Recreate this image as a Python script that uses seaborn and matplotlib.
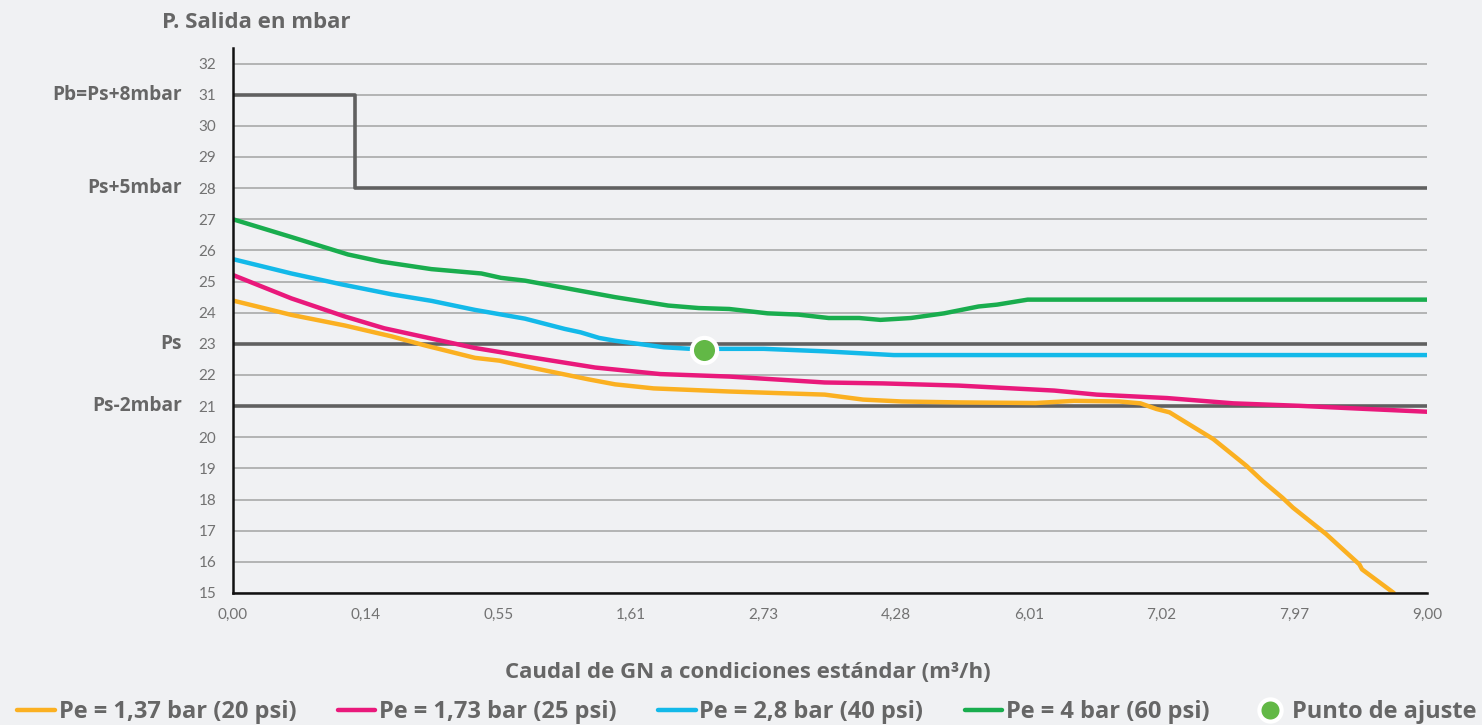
import numpy as np
import pandas as pd
import matplotlib
matplotlib.use("Agg")
import matplotlib.pyplot as plt
import matplotlib.transforms as mtransforms
from matplotlib.lines import Line2D
import seaborn as sns

# ---------------- data ----------------
x_tick_labels = ["0,00", "0,14", "0,55", "1,61", "2,73", "4,28", "6,01", "7,02", "7,97", "9,00"]
y_ticks = list(range(15, 33))

series_names = ["Pe = 1,37 bar (20 psi)", "Pe = 1,73 bar (25 psi)",
                "Pe = 2,8 bar (40 psi)", "Pe = 4 bar (60 psi)"]

x_137 = [0, 0.44, 0.842, 1.196, 1.447, 1.824, 2.01, 2.2, 2.44, 2.68, 2.88, 3.17, 3.74,
         4.46, 4.75, 5.04, 5.47, 6.05, 6.34, 6.68, 6.84, 6.96, 7.06, 7.14, 7.39, 7.64,
         7.76, 7.91, 7.99, 8.24, 8.49, 8.51, 8.75]
y_137 = [24.39, 23.93, 23.59, 23.24, 22.95, 22.55, 22.46, 22.28, 22.07, 21.86, 21.70,
         21.57, 21.47, 21.37, 21.21, 21.15, 21.12, 21.10, 21.17, 21.15, 21.09, 20.91,
         20.80, 20.59, 19.94, 19.08, 18.60, 18.06, 17.74, 16.89, 15.92, 15.76, 15.0]

x_173 = [0, 0.44, 0.842, 1.14, 1.495, 1.82, 2.02, 2.2, 2.73, 3.22, 3.74, 4.46, 4.90,
         5.47, 6.19, 6.51, 7.04, 7.54, 8.04, 8.54, 9.0]
y_173 = [25.21, 24.46, 23.88, 23.50, 23.17, 22.87, 22.73, 22.60, 22.24, 22.03, 21.95,
         21.76, 21.73, 21.66, 21.50, 21.37, 21.26, 21.09, 21.01, 20.91, 20.82]

x_28 = [0, 0.44, 0.819, 1.196, 1.497, 1.824, 2.2, 2.50, 2.62, 2.76, 2.88, 3.25, 3.45,
        3.68, 4.0, 4.46, 4.98, 9.0]
y_28 = [25.72, 25.26, 24.91, 24.59, 24.38, 24.09, 23.81, 23.48, 23.37, 23.19, 23.10,
        22.89, 22.84, 22.84, 22.84, 22.76, 22.64, 22.64]

x_4 = [0, 0.44, 0.867, 1.118, 1.495, 1.872, 2.02, 2.2, 2.88, 3.28, 3.51, 3.74, 4.03,
       4.26, 4.49, 4.72, 4.88, 5.11, 5.36, 5.62, 5.76, 5.99, 9.0]
y_4 = [27.0, 26.43, 25.87, 25.64, 25.40, 25.26, 25.12, 25.03, 24.50, 24.23, 24.15,
       24.12, 23.98, 23.94, 23.83, 23.83, 23.77, 23.83, 23.98, 24.20, 24.26, 24.42, 24.42]

step_x = [0, 0.92, 0.92, 9.0]
step_y = [31, 31, 28, 28]

ref_levels = [23, 21]
side_labels = {31: "Pb=Ps+8mbar", 28: "Ps+5mbar", 23: "Ps", 21: "Ps-2mbar"}

punto_x = [3.55]
punto_y = [22.80]

colors = ["#fbb021", "#e9197b", "#13b9e9", "#19ad4e"]
dark = "#606060"
bg = "#f0f1f3"
text_gray = "#666666"

# ---------------- build frame ----------------
frames = []
for name, xs, ys in zip(series_names, [x_137, x_173, x_28, x_4], [y_137, y_173, y_28, y_4]):
    frames.append(pd.DataFrame({"x": xs, "y": ys, "serie": name}))
df = pd.concat(frames, ignore_index=True)

# ---------------- style ----------------
sns.set_theme(style="white")
plt.rcParams["font.family"] = ["Lato", "DejaVu Sans"]
bold_family = ["Open Sans", "DejaVu Sans"]

fig = plt.figure(figsize=(14.82, 7.25), dpi=100, facecolor=bg)
ax = fig.add_axes([233 / 1482, 1 - 593 / 725, (1427 - 233) / 1482, (593 - 48) / 725])
ax.set_facecolor(bg)

# grid lines
for v in y_ticks:
    if v in ref_levels:
        continue
    ax.axhline(v, color="#a9a9a9", lw=1.2, zorder=1)
for v in ref_levels:
    ax.axhline(v, color=dark, lw=2.6, zorder=2)

sns.lineplot(x=step_x, y=step_y, ax=ax, color=dark, lw=2.6, sort=False,
             estimator=None, zorder=2)

sns.lineplot(data=df, x="x", y="y", hue="serie", palette=dict(zip(series_names, colors)),
             sort=False, estimator=None, lw=3.2, ax=ax, legend=False, zorder=3)

sns.scatterplot(x=punto_x, y=punto_y, ax=ax, s=330, color="#62b846", edgecolor="white",
                linewidth=3, zorder=5)

ax.set_xlim(0, 9)
ax.set_ylim(15, 32.5)
ax.set_xticks(range(len(x_tick_labels)))
ax.set_xticklabels(x_tick_labels)
ax.set_yticks(y_ticks)
ax.set_yticklabels([str(v) for v in y_ticks])
ax.set_xlabel("")
ax.set_ylabel("")

for s in ["top", "right"]:
    ax.spines[s].set_visible(False)
for s in ["left", "bottom"]:
    ax.spines[s].set_color("#111111")
    ax.spines[s].set_linewidth(1.8)
    ax.spines[s].set_zorder(6)

ax.tick_params(axis="both", which="major", length=5, width=1.8, color="#111111",
               labelcolor="#727272", labelsize=11, direction="out")
ax.tick_params(axis="y", pad=7)
ax.tick_params(axis="x", pad=6)

# side bold labels
trans = mtransforms.blended_transform_factory(fig.transFigure, ax.transData)
for v, t in side_labels.items():
    ax.text(182 / 1482, v, t, transform=trans, ha="right", va="center",
            fontsize=13.8, fontweight="bold", color=text_gray, family=bold_family)

fig.text(162 / 1482, 1 - 23 / 725, "P. Salida en mbar", ha="left", va="center",
         fontsize=16, fontweight="bold", color=text_gray, family=bold_family)
fig.text(748 / 1482, 1 - 673 / 725, "Caudal de GN a condiciones estándar (m³/h)",
         ha="center", va="center", fontsize=16, fontweight="bold", color=text_gray,
         family=bold_family)

handles = [Line2D([0], [0], color=c, lw=3.2) for c in colors]
handles.append(Line2D([0], [0], marker="o", lw=0, markersize=16,
                      markerfacecolor="#62b846", markeredgecolor="white", markeredgewidth=3))
labels = series_names + ["Punto de ajuste"]
leg = fig.legend(handles, labels, loc="center", bbox_to_anchor=(747 / 1482, 1 - 712 / 725),
                 ncol=5, frameon=False, handlelength=1.6, handletextpad=0.15,
                 columnspacing=1.75, borderpad=0, borderaxespad=0,
                 prop={"weight": "bold", "size": 17, "family": bold_family})
for t in leg.get_texts():
    t.set_color(text_gray)

fig.savefig("out.png", dpi=100, facecolor=bg)
